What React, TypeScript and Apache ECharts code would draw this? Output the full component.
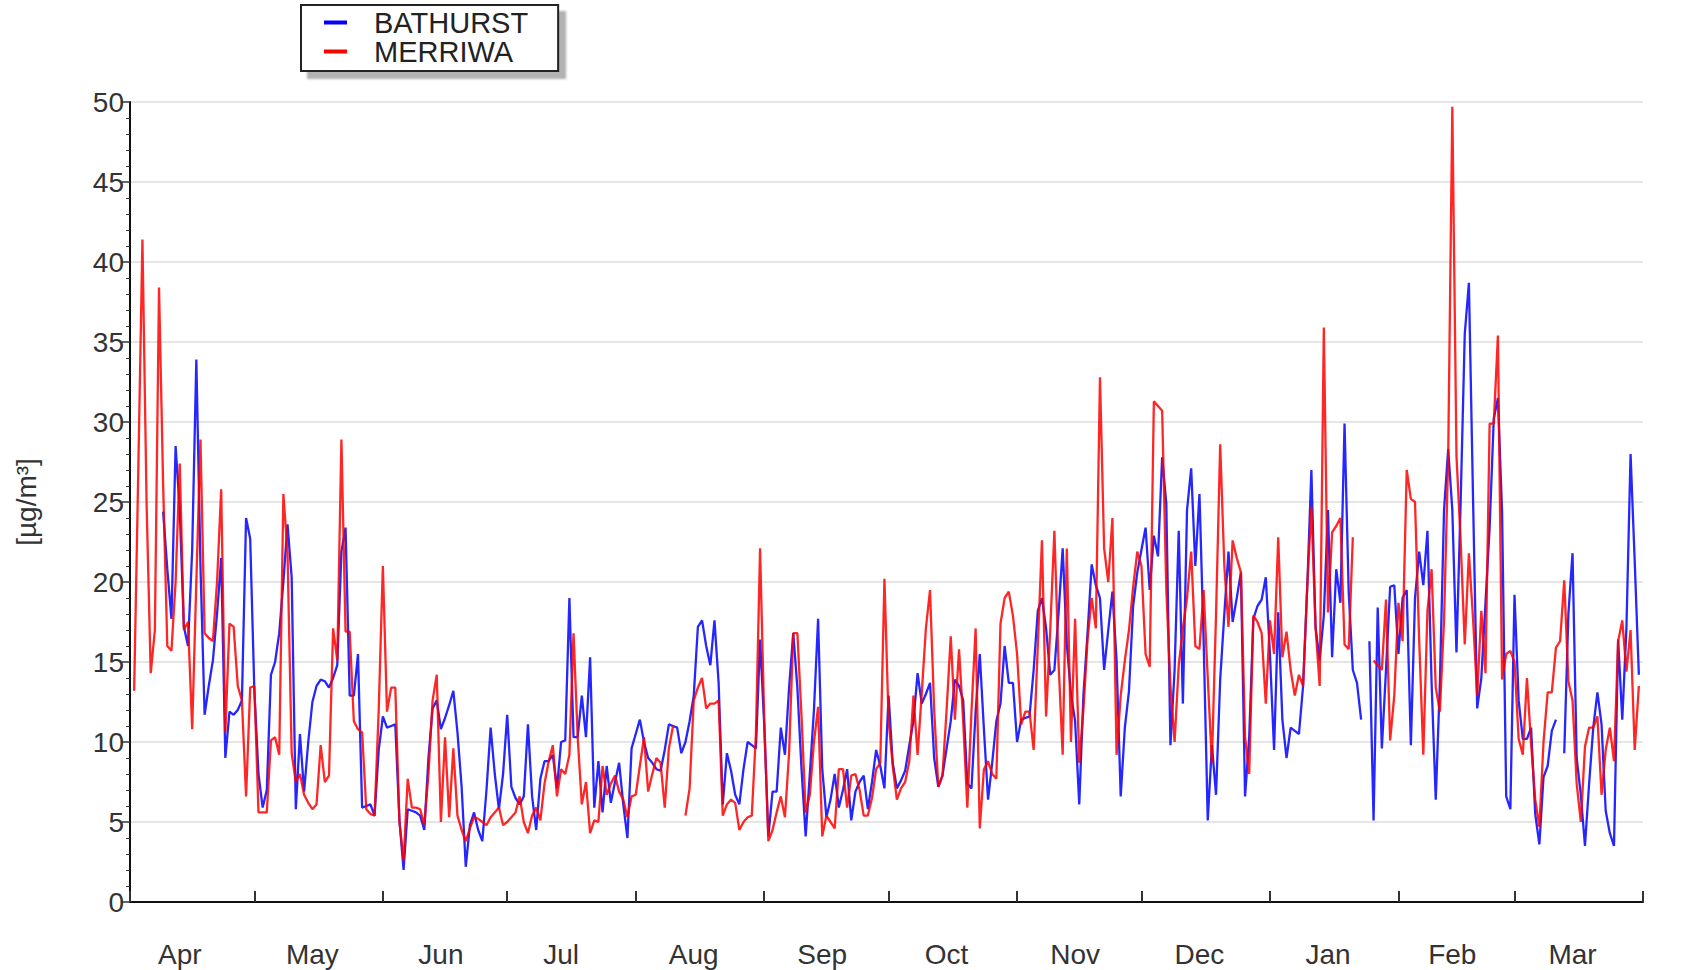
import React, { useEffect, useRef } from 'react';
import * as echarts from 'echarts';

// Month tick labels and month lengths (Apr .. Mar)
const months = ['Apr', 'May', 'Jun', 'Jul', 'Aug', 'Sep', 'Oct', 'Nov', 'Dec', 'Jan', 'Feb', 'Mar'];
const monthDays = [30, 31, 30, 31, 31, 30, 31, 30, 31, 31, 28, 31];
const labelDayInMonth = [12, 14, 14, 13, 14, 14, 14, 14, 14, 14, 13, 14];

// Daily values, day 0 = 1 Apr
const bathurst: (number | null)[] = [
  null, null, null, null, null, null, null, null, 24.4, 20.8,
  17.7, 28.5, 24.5, 17.2, 16, 22, 33.9, 21, 11.7, 13.5,
  15.1, 18, 21.5, 9, 11.9, 11.7, 12, 12.6, 24, 22.7,
  13.2, 8, 5.9, 7, 14.2, 15, 16.8, 20, 23.6, 20.3,
  5.8, 10.5, 6.9, 10, 12.5, 13.5, 13.9, 13.8, 13.4, 14,
  14.8, 21.9, 23.4, 12.9, 12.9, 15.5, 5.9, 6, 6.1, 5.4,
  9.5, 11.6, 10.9, 11, 11.1, 5.1, 2, 5.8, 5.7, 5.6,
  5.4, 4.5, 9, 12.1, 12.6, 10.8, 11.5, 12.3, 13.2, 10.6,
  7.2, 2.2, 4.8, 5.6, 4.5, 3.8, 7, 10.9, 8, 5.8,
  8, 11.7, 7.2, 6.5, 6.1, 6.6, 11.1, 6.6, 4.5, 7.7,
  8.8, 8.8, 9.2, 7.1, 10, 10.1, 19, 10.3, 10.3, 12.9,
  10.3, 15.3, 5.9, 8.8, 5.6, 8.5, 6.2, 7.5, 8.7, 6.1,
  4, 9.6, 10.5, 11.4, 10, 9, 8.7, 8.3, 8.2, 9.5,
  11.1, 11, 10.9, 9.3, 10, 11.3, 12.9, 17.2, 17.6, 16,
  14.8, 17.6, 13.7, 6.1, 9.3, 8.2, 6.7, 6.1, 8.3, 10,
  9.8, 9.6, 16.4, 11.1, 4.1, 6.9, 6.9, 10.9, 9.2, 13.4,
  16.8, 13.4, 8.3, 4.1, 8, 12, 17.7, 8.3, 5.3, 6.4,
  8, 5.9, 7, 8.3, 5.1, 6.9, 7.5, 7.9, 5.8, 7.5,
  9.5, 8.5, 7.1, 12.9, 8.7, 7.1, 7.6, 8.2, 9.8, 11.3,
  14.3, 12.4, 13, 13.7, 9, 7.2, 7.9, 9.6, 11.3, 13.9,
  13.5, 12.6, 7.4, 7.1, 11.9, 15.5, 10.8, 6.4, 8.7, 11.3,
  12.4, 16, 13.7, 13.7, 10, 11.4, 11.5, 11.6, 14.5, 18.2,
  19, 17.1, 14.2, 14.5, 18, 22.1, 16.1, 13, 11.3, 6.1,
  12.9, 16.8, 21.1, 19.8, 19, 14.5, 17, 19.4, 15.1, 6.6,
  10.9, 13.2, 18.5, 20.6, 22, 23.4, 19.5, 22.9, 21.6, 27.8,
  24.9, 9.8, 14.5, 23.2, 12.4, 24.5, 27.1, 21, 25.5, 16.4,
  5.1, 9.8, 6.7, 13.9, 18, 21.9, 17.5, 19, 20.6, 6.6,
  10.3, 17.7, 18.5, 18.9, 20.3, 15.5, 9.5, 18.1, 11.4, 9,
  10.9, 10.7, 10.5, 13.5, 19.7, 27, 17.2, 15.1, 17.9, 24.5,
  15.3, 20.8, 18.7, 29.9, 19.4, 14.5, 13.7, 11.4, null, 16.3,
  5.1, 18.4, 9.6, 14.5, 19.7, 19.8, 15.5, 19, 19.5, 9.8,
  19, 21.9, 19.8, 23.2, 13.7, 6.4, 13.7, 24.5, 28.3, 24.5,
  15.6, 24.9, 35.5, 38.7, 25.2, 12.1, 14, 18.7, 23.4, 30.2,
  31.5, 24.4, 6.6, 5.8, 19.2, 12.6, 10.2, 10.2, 10.9, 5.5,
  3.6, 7.8, 8.5, 10.7, 11.4, null, 9.3, 18, 21.8, 9,
  6.7, 3.5, 7.4, 10.9, 13.1, 11.1, 5.7, 4.3, 3.5, 16.4,
  11.4, 17.1, 28, 21.3, 14.2,
];

const merriwa: (number | null)[] = [
  null, 13.2, 27, 41.4, 24.9, 14.3, 17, 38.4, 26, 16,
  15.7, 20, 27.4, 17, 17.5, 10.8, 20, 28.9, 16.8, 16.5,
  16.3, 20, 25.8, 10.6, 17.4, 17.2, 13.5, 12.6, 6.6, 13.4,
  13.5, 5.6, 5.6, 5.6, 10.1, 10.3, 9.2, 25.5, 21.8, 9.3,
  7.5, 8, 6.7, 6.2, 5.8, 6.1, 9.8, 7.5, 7.9, 17.1,
  15.1, 28.9, 16.9, 16.9, 11.3, 10.8, 10.6, 5.8, 5.5, 5.4,
  12, 21, 11.9, 13.4, 13.4, 5, 2.6, 7.7, 5.9, 5.9,
  5.8, 4.8, 8, 12.6, 14.2, 5, 10.3, 5.3, 9.6, 5.4,
  4.5, 3.8, 4.6, 5.3, 5.2, 5, 4.8, 5.3, 5.6, 5.9,
  4.8, 5, 5.3, 5.6, 6.6, 5, 4.3, 5.4, 5.9, 5.1,
  7.4, 8.8, 9.8, 6.6, 8.3, 8, 9.2, 16.8, 10.3, 6.1,
  7.5, 4.3, 5.1, 5, 8.5, 6.7, 7.4, 7.9, 6.9, 6.4,
  5.3, 6.6, 6.7, 8.5, 10.3, 6.9, 8, 9, 8.7, 5.9,
  9.6, 11, null, null, 5.4, 7.1, 12.6, 13.4, 14, 12.1,
  12.4, 12.4, 12.6, 5.4, 6.1, 6.4, 6.2, 4.5, 5, 5.3,
  5.4, 10.5, 22.1, 11.4, 3.8, 4.5, 5.6, 6.6, 5.3, 9.3,
  16.8, 16.8, 11.6, 5.6, 6.7, 10, 12.2, 4.1, 5.4, 5,
  4.6, 8.3, 8.3, 5.9, 7.9, 8, 7, 5.4, 5.4, 6.5,
  8.3, 8.7, 20.2, 11.4, 8.5, 6.4, 7.1, 7.5, 8.8, 12.9,
  9.2, 13, 17.1, 19.5, 12, 7.2, 7.9, 12, 16.6, 11.4,
  15.8, 11.3, 5.9, 11.9, 17.1, 4.6, 8.3, 8.8, 8, 7.7,
  17.4, 19, 19.4, 17.9, 15.5, 11.1, 11.9, 11.9, 9.5, 16,
  22.6, 11.6, 17, 23.2, 15, 9.2, 22.1, 10, 17.7, 8.7,
  12, 16.4, 19, 17.1, 32.8, 22.1, 20, 24, 9.2, 12.9,
  15.1, 17, 19.7, 21.9, 21, 15.5, 14.7, 31.3, 31, 30.7,
  19.5, 13.5, 10, 14.8, 17.1, 19, 21.9, 16, 15.8, 19.5,
  14, 8.7, 18, 28.6, 21, 17.2, 22.6, 21.5, 20.6, 10.3,
  8, 17.9, 17.5, 16.8, 12.4, 17.6, 15.5, 22.8, 15.3, 16.9,
  14.5, 12.9, 14.2, 13.5, 19.7, 24.7, 17.2, 13.5, 35.9, 18.1,
  23.1, 23.5, 24, 16.1, 15.8, 22.8, null, null, null, null,
  15.1, 14.8, 14.5, 18.9, 10.1, 12.9, 18.7, 16.3, 27, 25.2,
  25, 16.4, 9.2, 18.2, 20.8, 13.4, 11.9, 17.6, 27.8, 49.7,
  27.9, 22.6, 16.1, 21.8, 17.7, 12.9, 18.2, 14.3, 29.9, 29.9,
  35.4, 13.9, 15.5, 15.7, 15, 10.2, 9.2, 14, 9.9, 6.4,
  4.7, 10, 13.1, 13.1, 15.9, 16.3, 20.1, 13.8, 12.6, 7.4,
  5, 9.7, 10.9, 10.9, 11.6, 6.7, 9.5, 10.9, 8.8, 16.3,
  17.6, 14.4, 17, 9.5, 13.5,
];

const FONT = '"Liberation Sans", Arial, sans-serif';

export default function App() {
  const ref = useRef<HTMLDivElement>(null);

  useEffect(() => {
    document.body.style.margin = '0';
    const chart = echarts.init(ref.current!, null, { renderer: 'svg' });

    const starts: number[] = [];
    let acc = 0;
    monthDays.forEach((d) => {
      starts.push(acc);
      acc += d;
    });
    starts.push(acc);
    const tickSet = new Set(starts);
    const labelAt = new Map<number, string>();
    months.forEach((m, i) => labelAt.set(starts[i] + labelDayInMonth[i], m));
    const cats = Array.from({ length: acc + 1 }, (_, i) => String(i));

    chart.setOption({
      animation: false,
      backgroundColor: '#ffffff',
      textStyle: { fontFamily: FONT },
      legend: {
        orient: 'vertical',
        left: 301,
        top: 5,
        padding: [3, 30, 5, 23],
        itemWidth: 23,
        itemHeight: 4,
        itemGap: 0,
        icon: 'rect',
        borderColor: '#222',
        borderWidth: 2,
        backgroundColor: '#fff',
        shadowColor: 'rgba(0,0,0,0.3)',
        shadowBlur: 2,
        shadowOffsetX: 7,
        shadowOffsetY: 7,
        textStyle: { fontSize: 29, lineHeight: 24, color: '#222', fontFamily: FONT, padding: [0, 0, 0, 22] },
        data: ['BATHURST', 'MERRIWA'],
      },
      grid: { left: 130, right: 49, top: 102, bottom: 68, containLabel: false },
      xAxis: {
        type: 'category',
        data: cats,
        boundaryGap: false,
        axisLine: { show: true, lineStyle: { color: '#111', width: 2 } },
        axisTick: {
          show: true,
          inside: true,
          length: 11,
          interval: (i: number) => tickSet.has(i),
          lineStyle: { color: '#333', width: 2 },
        },
        axisLabel: {
          interval: (i: number) => labelAt.has(i),
          formatter: (_v: string, i: number) => labelAt.get(i) || '',
          fontSize: 28,
          color: '#333',
          margin: 38,
          fontFamily: FONT,
        },
        splitLine: { show: false },
      },
      yAxis: {
        type: 'value',
        min: 0,
        max: 50,
        interval: 5,
        name: '[µg/m³]',
        nameLocation: 'middle',
        nameGap: 90,
        nameRotate: 90,
        nameTextStyle: { fontSize: 28, color: '#333', fontFamily: FONT },
        axisLine: { show: true, lineStyle: { color: '#111', width: 2 } },
        axisTick: { show: true, inside: false, length: 8, lineStyle: { color: '#333', width: 1.5 } },
        minorTick: { show: true, splitNumber: 5, length: 4, lineStyle: { color: '#333', width: 1 } },
        axisLabel: { fontSize: 28, color: '#333', margin: 6, fontFamily: FONT },
        splitLine: { show: true, lineStyle: { color: '#dcdcdc', width: 1.5 } },
      },
      series: [
        {
          name: 'BATHURST',
          type: 'line',
          data: bathurst,
          showSymbol: false,
          symbol: 'none',
          connectNulls: false,
          color: '#0000ff',
          lineStyle: { color: '#0000ff', width: 2.3, opacity: 0.85 },
        },
        {
          name: 'MERRIWA',
          type: 'line',
          data: merriwa,
          showSymbol: false,
          symbol: 'none',
          connectNulls: false,
          color: '#ff0000',
          lineStyle: { color: '#ff0000', width: 2.3, opacity: 0.85 },
        },
      ],
    });

    return () => chart.dispose();
  }, []);

  return <div ref={ref} style={{ width: 1692, height: 970 }} />;
}
